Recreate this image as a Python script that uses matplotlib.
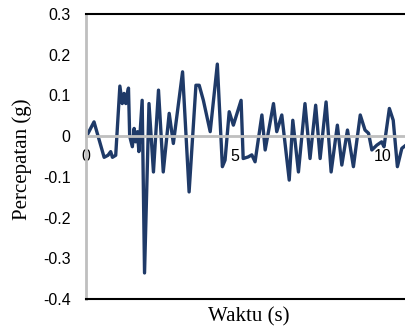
import matplotlib
matplotlib.use("Agg")
import matplotlib.pyplot as plt
from matplotlib.ticker import FuncFormatter

# Acceleration record
waktu = [0.02, 0.27, 0.61, 0.74, 0.83, 0.89, 1.00, 1.14, 1.22, 1.28,
         1.34, 1.39, 1.43, 1.47, 1.56, 1.62, 1.67, 1.73, 1.78, 1.89,
         1.97, 2.12, 2.27, 2.44, 2.60, 2.80, 2.94, 3.25, 3.47, 3.70,
         3.81, 3.95, 4.18, 4.42, 4.59, 4.68, 4.82, 4.96, 5.22, 5.29,
         5.46, 5.58, 5.69, 5.92, 6.03, 6.31, 6.42, 6.59, 6.84, 6.96,
         7.15, 7.37, 7.54, 7.73, 7.88, 8.08, 8.25, 8.46, 8.61, 8.80,
         9.00, 9.23, 9.39, 9.51, 9.62, 9.79, 9.95, 10.03, 10.21, 10.34,
         10.48, 10.63, 10.77, 10.90]
percepatan = [0.000, 0.035, -0.052, -0.047, -0.038, -0.052, -0.047, 0.123, 0.080, 0.105,
              0.080, 0.105, 0.118, 0.000, -0.026, 0.019, -0.014, 0.011, -0.038, 0.088,
              -0.336, 0.080, -0.088, 0.113, -0.088, 0.056, -0.018, 0.158, -0.137, 0.125,
              0.125, 0.088, 0.011, 0.177, -0.075, -0.059, 0.060, 0.027, 0.088, -0.055,
              -0.051, -0.046, -0.063, 0.052, -0.034, 0.080, 0.011, 0.052, -0.108, 0.039,
              -0.088, 0.080, -0.055, 0.076, -0.055, 0.084, -0.088, 0.027, -0.071, 0.015,
              -0.075, 0.052, 0.015, 0.007, -0.034, -0.022, -0.014, -0.026, 0.068, 0.039,
              -0.075, -0.030, -0.022, -0.020]

y_ticks = [0.3, 0.2, 0.1, 0.0, -0.1, -0.2, -0.3, -0.4]
x_ticks = [0, 5, 10]

W, H = 406, 331
fig = plt.figure(figsize=(W / 100, H / 100), dpi=100)
ax = fig.add_axes([86 / W, (H - 299) / H, (W - 86) / W, 285 / H])

ax.plot(waktu, percepatan, color="#1F3A68", linewidth=2.4,
        solid_joinstyle="round", solid_capstyle="round")

ax.set_xlim(0, 10.77)
ax.set_ylim(-0.4, 0.3)

# spines: gray left axis, x axis sits on zero, black lines top and bottom
ax.spines["right"].set_visible(False)
ax.spines["left"].set_color("#bfbfbf")
ax.spines["left"].set_linewidth(2)
ax.spines["bottom"].set_position(("data", 0))
ax.spines["bottom"].set_color("#bfbfbf")
ax.spines["bottom"].set_linewidth(2)
ax.spines["top"].set_color("black")
ax.spines["top"].set_linewidth(1.5)
ax.axhline(-0.4, color="black", linewidth=1.5, clip_on=False, zorder=3)

ax.set_yticks(y_ticks)
ax.yaxis.set_major_formatter(FuncFormatter(lambda v, p: f"{v:g}"))
ax.set_xticks(x_ticks)
ax.xaxis.set_major_formatter(FuncFormatter(lambda v, p: f"{v:g}"))
ax.tick_params(axis="y", length=0, pad=11)
ax.tick_params(axis="x", length=0, pad=9)
for lab in ax.get_xticklabels() + ax.get_yticklabels():
    lab.set_fontfamily("Liberation Sans")
    lab.set_fontsize(11.5)

label_font = {"family": "Liberation Serif", "size": 15}
ax.set_xlabel("Waktu (s)", fontdict=label_font)
ax.xaxis.set_label_coords(0.51, -0.03)
ax.set_ylabel("Percepatan (g)", fontdict=label_font)
ax.yaxis.set_label_coords(-0.168, 0.49)

fig.savefig("out.png", dpi=100)
plt.close(fig)
